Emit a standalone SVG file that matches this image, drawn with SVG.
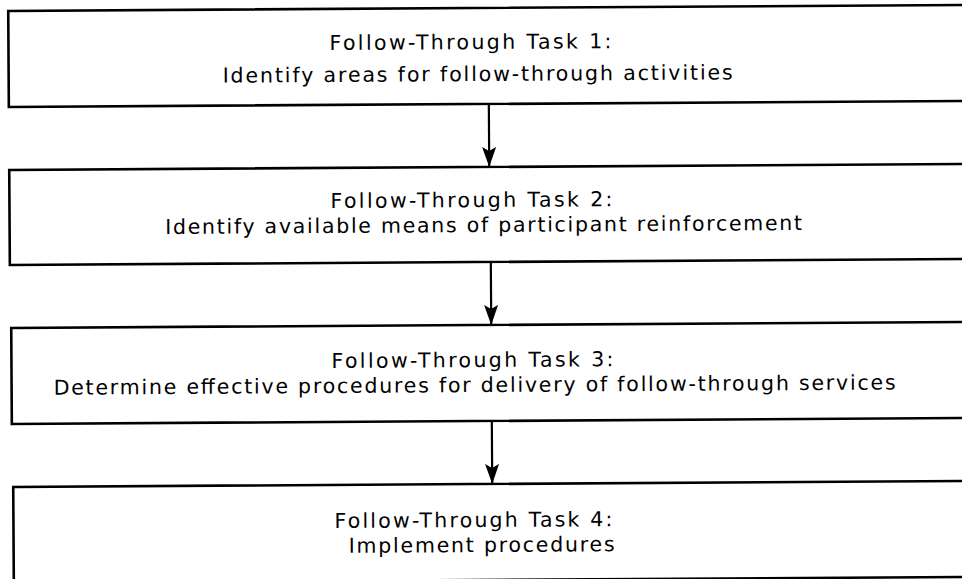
<svg xmlns="http://www.w3.org/2000/svg" width="962" height="579" viewBox="0 0 962 579">
<style>
.box{fill:#fff;stroke:#000;stroke-width:2.6}
.t{font-family:"DejaVu Sans","Liberation Sans",sans-serif;font-size:20.5px;fill:#000;text-anchor:middle}
.c{stroke:#000;stroke-width:2.2;fill:none}
</style>
<defs>
<marker id="ah" viewBox="0 0 20 14" refX="20" refY="7" markerWidth="20" markerHeight="14" markerUnits="userSpaceOnUse" orient="auto">
<path d="M0,0 L20,7 L0,14 L4,7 z" fill="#000"/>
</marker>
</defs>
<rect width="962" height="579" fill="#fff"/>
<g transform="rotate(-0.36 481 290)">
<g id="connectors">
<line class="c" x1="490" y1="104" x2="490" y2="167" marker-end="url(#ah)"/>
<line class="c" x1="491" y1="262" x2="491" y2="325" marker-end="url(#ah)"/>
<line class="c" x1="491" y1="421" x2="491" y2="484" marker-end="url(#ah)"/>
</g>
<g id="task1">
<rect class="box" x="10" y="8" width="970" height="96"/>
<text class="t" x="472" y="49" textLength="282" lengthAdjust="spacing">Follow-Through Task 1:</text>
<text class="t" x="479" y="81" textLength="510" lengthAdjust="spacing">Identify areas for follow-through activities</text>
</g>
<g id="task2">
<rect class="box" x="10" y="167" width="970" height="95"/>
<text class="t" x="472" y="207" textLength="282" lengthAdjust="spacing">Follow-Through Task 2:</text>
<text class="t" x="484" y="232" textLength="637" lengthAdjust="spacing">Identify available means of participant reinforcement</text>
</g>
<g id="task3">
<rect class="box" x="11" y="325" width="970" height="96"/>
<text class="t" x="472" y="367" textLength="282" lengthAdjust="spacing">Follow-Through Task 3:</text>
<text class="t" x="474" y="392" textLength="842" lengthAdjust="spacing">Determine effective procedures for delivery of follow-through services</text>
</g>
<g id="task4">
<rect class="box" x="12" y="484" width="970" height="96"/>
<text class="t" x="472" y="527" textLength="278" lengthAdjust="spacing">Follow-Through Task 4:</text>
<text class="t" x="480" y="552" textLength="266" lengthAdjust="spacing">Implement procedures</text>
</g>
</g>
</svg>
